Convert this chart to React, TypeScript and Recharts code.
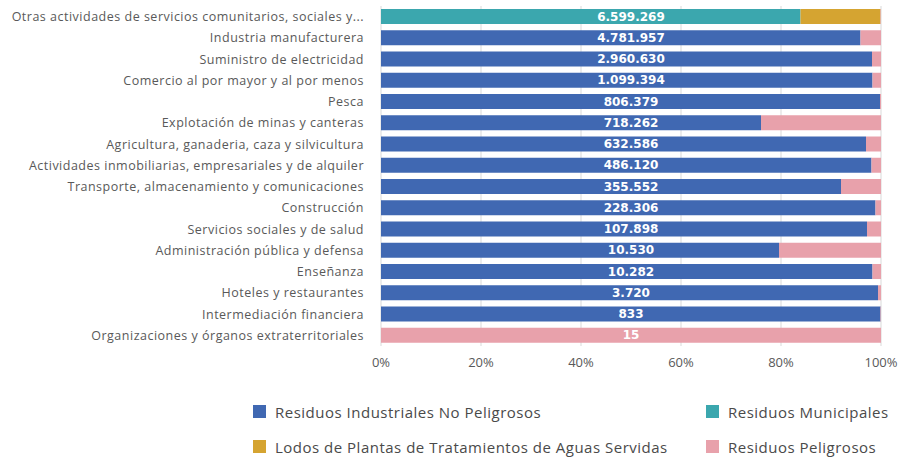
import * as React from 'react';
import { BarChart, Bar, XAxis, YAxis, CartesianGrid, LabelList } from 'recharts';

const categories = [
  'Otras actividades de servicios comunitarios, sociales y...',
  'Industria manufacturera',
  'Suministro de electricidad',
  'Comercio al por mayor y al por menos',
  'Pesca',
  'Explotación de minas y canteras',
  'Agricultura, ganaderia, caza y silvicultura',
  'Actividades inmobiliarias, empresariales y de alquiler',
  'Transporte, almacenamiento y comunicaciones',
  'Construcción',
  'Servicios sociales y de salud',
  'Administración pública y defensa',
  'Enseñanza',
  'Hoteles y restaurantes',
  'Intermediación financiera',
  'Organizaciones y órganos extraterritoriales',
];

// totals (toneladas) shown inside each bar
const totals = [
  '6.599.269', '4.781.957', '2.960.630', '1.099.394', '806.379', '718.262', '632.586', '486.120',
  '355.552', '228.306', '107.898', '10.530', '10.282', '3.720', '833', '15',
];

// shares in % per series
const noPeligrosos = [0, 95.9, 98.2, 98.3, 99.8, 76.0, 97.0, 98.1, 92.0, 98.9, 97.2, 79.6, 98.3, 99.4, 99.9, 0];
const municipales = [83.9, 0, 0, 0, 0, 0, 0, 0, 0, 0, 0, 0, 0, 0, 0, 0];
const lodos = [16.0, 0, 0, 0, 0, 0, 0, 0, 0, 0, 0, 0, 0, 0, 0, 0];
const peligrosos = [0.1, 4.1, 1.8, 1.7, 0.2, 24.0, 3.0, 1.9, 8.0, 1.1, 2.8, 20.4, 1.7, 0.6, 0.1, 100];

const xTicks = [0, 20, 40, 60, 80, 100];

const series = [
  { key: 'noPeligrosos', name: 'Residuos Industriales No Peligrosos', color: '#4068B2' },
  { key: 'municipales', name: 'Residuos Municipales', color: '#3BA7AE' },
  { key: 'lodos', name: 'Lodos de Plantas de Tratamientos de Aguas Servidas', color: '#D5A431' },
  { key: 'peligrosos', name: 'Residuos Peligrosos', color: '#E8A1AB' },
];

const data = categories.map((name, i) => ({
  name,
  total: totals[i],
  noPeligrosos: noPeligrosos[i],
  municipales: municipales[i],
  lodos: lodos[i],
  peligrosos: peligrosos[i],
}));

const WIDTH = 902;
const HEIGHT = 458;
const MARGIN = { top: 6, right: 21, bottom: 82, left: 0 };
const Y_AXIS_WIDTH = 381;
const PLOT_WIDTH = WIDTH - MARGIN.left - MARGIN.right - Y_AXIS_WIDTH;

const labelFont = '"Open Sans", Lato, sans-serif';

// the pink series always reaches 100%, so centre the total from its right edge
function TotalLabel(props: any) {
  const { x, y, width, height, value } = props;
  return (
    <text
      x={Number(x) + Number(width) - PLOT_WIDTH / 2}
      y={Number(y) + Number(height) / 2}
      textAnchor="middle"
      dominantBaseline="central"
      fill="#fff"
      fontSize={12}
      fontWeight={700}
      fontFamily='"DejaVu Sans", Verdana, sans-serif'
    >
      {value}
    </text>
  );
}

function LegendBox() {
  return (
    <div
      style={{
        position: 'absolute',
        left: 253,
        top: 402,
        display: 'grid',
        gridTemplateColumns: '453px 200px',
        rowGap: 16,
        fontFamily: labelFont,
        fontSize: 15,
        letterSpacing: 0.5,
        color: '#4a4a4a',
      }}
    >
      {series.map((s) => (
        <div key={s.key} style={{ display: 'flex', alignItems: 'center', height: 19, whiteSpace: 'nowrap' }}>
          <span style={{ width: 13, height: 13, background: s.color, marginRight: 9, display: 'inline-block' }} />
          {s.name}
        </div>
      ))}
    </div>
  );
}

export default function App() {
  return (
    <div style={{ position: 'absolute', left: 0, top: 0, width: WIDTH, height: HEIGHT, background: '#fff' }}>
      <BarChart
        width={WIDTH}
        height={HEIGHT}
        data={data}
        layout="vertical"
        margin={MARGIN}
        barSize={15}
      >
        <CartesianGrid horizontal={false} stroke="#d9d9d9" />
        <XAxis
          type="number"
          domain={[0, 100]}
          ticks={xTicks}
          tickFormatter={(v) => `${v}%`}
          axisLine={false}
          tickLine={false}
          tickSize={0}
          tickMargin={12}
          height={30}
          tick={{ fill: '#595959', fontSize: 13, fontFamily: labelFont }}
          interval={0}
        />
        <YAxis
          type="category"
          dataKey="name"
          width={Y_AXIS_WIDTH}
          axisLine={false}
          tickLine={false}
          tickSize={0}
          tickMargin={17}
          interval={0}
          tick={{ fill: '#595959', fontSize: 12.5, fontFamily: labelFont, letterSpacing: 0.5 }}
        />
        {series.map((s) => (
          <Bar
            key={s.key}
            dataKey={s.key}
            name={s.name}
            stackId="a"
            fill={s.color}
            isAnimationActive={false}
          >
            {s.key === 'peligrosos' ? <LabelList dataKey="total" content={TotalLabel} /> : null}
          </Bar>
        ))}
      </BarChart>
      <LegendBox />
    </div>
  );
}
